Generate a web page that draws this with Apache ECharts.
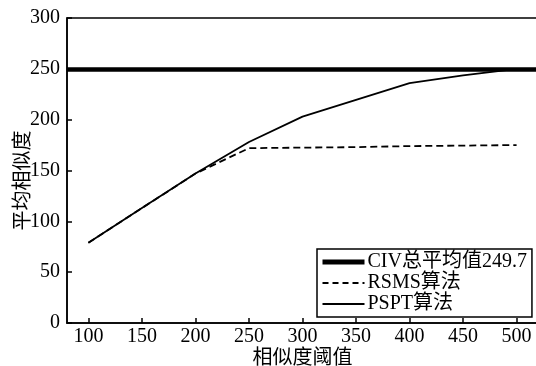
<!DOCTYPE html>
<html>
<head>
<meta charset="utf-8">
<script src="https://cdn.jsdelivr.net/npm/echarts@6/dist/echarts.min.js"></script>
<style>html,body{margin:0;padding:0;background:#fff;}#c{width:536px;height:366px;}</style>
</head>
<body>
<div id="c"></div>
<script>
const thresholds = [100, 150, 200, 250, 300, 350, 400, 450, 500];
const rsmsValues = [79, 113, 147, 172, 172.5, 173, 174, 174.5, 175];
const psptValues = [79, 113, 147, 178, 203, 219.5, 236, 243.5, 250];
const civMean = 249.7;
const xTicks = [100, 150, 200, 250, 300, 350, 400, 450, 500];
const seriesNames = ['CIV总平均值249.7', 'RSMS算法', 'PSPT算法'];
const xTitle = '相似度阈值';
const yTitle = '平均相似度';

const FONT = '"Liberation Serif", "Noto Sans CJK SC", serif';
const chart = echarts.init(document.getElementById('c'), null, {renderer: 'canvas'});
const pair = (xs, ys) => xs.map((x, i) => [x, ys[i]]);

chart.setOption({
  animation: false,
  backgroundColor: '#fff',
  textStyle: {fontFamily: FONT, color: '#000'},
  grid: {left: 67, top: 18, right: -2, bottom: 43, show: true, borderColor: '#000', borderWidth: 1.5,
         containLabel: false, outerBoundsMode: 'none'},
  legend: {
    orient: 'vertical',
    left: 317, top: 249,
    padding: [3, 5, 3, 3],
    itemGap: 1,
    itemWidth: 42,
    itemHeight: 14,
    borderColor: '#000', borderWidth: 1.5,
    backgroundColor: '#fff',
    itemStyle: {color: 'rgba(0,0,0,0)', borderColor: 'rgba(0,0,0,0)', borderWidth: 0},
    textStyle: {fontFamily: FONT, fontSize: 20, color: '#000', padding: [0, 0, 0, -2]},
    data: [
      {name: seriesNames[0], lineStyle: {color: '#000', width: 5, type: 'solid'}},
      {name: seriesNames[1], lineStyle: {color: '#000', width: 1.8, type: [6, 4]}},
      {name: seriesNames[2], lineStyle: {color: '#000', width: 2, type: 'solid'}}
    ]
  },
  xAxis: {
    type: 'value', min: 80, max: 520,
    name: xTitle, nameLocation: 'middle', nameGap: 26, nameMoveOverlap: false,
    nameTextStyle: {fontFamily: FONT, fontSize: 20, color: '#000'},
    axisLine: {show: true, lineStyle: {color: '#000', width: 1.5}},
    axisTick: {show: true, inside: true, length: 5, lineStyle: {color: '#000', width: 1.5}, customValues: xTicks},
    axisLabel: {fontFamily: FONT, fontSize: 20, color: '#000', margin: 4, customValues: xTicks},
    splitLine: {show: false}
  },
  yAxis: {
    type: 'value', min: 0, max: 300, interval: 50,
    name: yTitle, nameLocation: 'middle', nameGap: 33, nameRotate: 90, nameMoveOverlap: false,
    nameTextStyle: {fontFamily: FONT, fontSize: 20, color: '#000', padding: [0, 20, 0, 0]},
    axisLine: {show: true, lineStyle: {color: '#000', width: 1.5}},
    axisTick: {show: true, inside: true, length: 5, lineStyle: {color: '#000', width: 1.5}},
    axisLabel: {fontFamily: FONT, fontSize: 20, color: '#000', margin: 7},
    splitLine: {show: false}
  },
  series: [
    {
      name: seriesNames[0], type: 'line', data: [], symbol: 'none',
      lineStyle: {color: '#000', width: 4.5},
      itemStyle: {color: '#000'},
      markLine: {
        silent: true, symbol: 'none', label: {show: false},
        lineStyle: {color: '#000', width: 4.5, type: 'solid'},
        data: [{yAxis: civMean}]
      }
    },
    {
      name: seriesNames[1], type: 'line', data: pair(thresholds, rsmsValues), symbol: 'none',
      lineStyle: {color: '#000', width: 1.8, type: [7, 4]},
      itemStyle: {color: '#000'}
    },
    {
      name: seriesNames[2], type: 'line', data: pair(thresholds, psptValues), symbol: 'none',
      lineStyle: {color: '#000', width: 1.8},
      itemStyle: {color: '#000'}
    }
  ]
});
</script>
</body>
</html>
